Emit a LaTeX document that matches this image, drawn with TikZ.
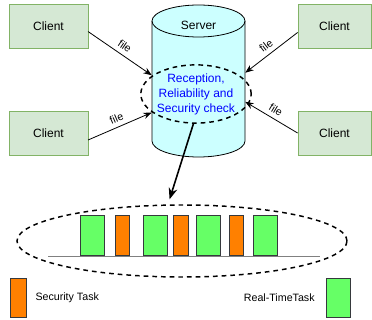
\documentclass[tikz,border=0pt]{standalone}
\usepackage{fontspec}
\setmainfont{Liberation Sans}
\usetikzlibrary{arrows.meta,positioning,shapes.geometric}
\definecolor{clientfill}{HTML}{D5E8D4}
\definecolor{clientline}{HTML}{82B366}
\definecolor{serverfill}{HTML}{CCFFFF}
\definecolor{rtgreen}{HTML}{66FF66}
\definecolor{secorange}{HTML}{FF8000}
\definecolor{barline}{HTML}{36393D}

\begin{document}
\begin{tikzpicture}[
    x=0.75pt, y=0.75pt,
    client/.style={draw=clientline, fill=clientfill, minimum height=33pt, font=\fontsize{9}{11}\selectfont},
    ring/.style={draw, ellipse, dash pattern=on 3.5pt off 3pt, line width=1.1pt, inner sep=0pt},
    arr/.style={-{Stealth[length=2.2mm, width=1.7mm]}, line width=0.6pt},
    bigarr/.style={-{Stealth[length=3mm, width=2.3mm]}, line width=1.2pt},
    lbl/.style={font=\fontsize{8}{10}\selectfont, sloped, above, midway},
    bar/.style={draw=barline, inner sep=0pt, minimum height=30pt, line width=0.6pt},
    legtext/.style={font=\fontsize{8}{10}\selectfont}
]
\useasboundingbox (0,0) rectangle (372,-320);

% server
\filldraw[fill=serverfill, line width=0.6pt] (152,-21) -- (152,-141)
    arc[start angle=180, end angle=360, x radius=46.5, y radius=16] -- (245,-21)
    arc[start angle=0, end angle=180, x radius=46.5, y radius=16];
\draw[line width=0.6pt] (152,-21) arc[start angle=180, end angle=360, x radius=46.5, y radius=16];
\node[minimum width=69.75pt, minimum height=114pt, inner sep=0pt] (server) at (198.5,-81) {};
\node[font=\fontsize{9}{11}\selectfont] (servertitle) at (198.5,-25) {Server};
\node[ring, minimum width=71pt, minimum height=43pt, text=blue, align=center,
      font=\fontsize{9}{11.25}\selectfont] (check) at (196,-94) {Reception,\\Reliability and\\Security check};

% clients
\node[client, minimum width=59pt] (cl1) at (48.5,-26) {Client};
\node[client, minimum width=59pt] (cl2) at (48.5,-133) {Client};
\node[client, minimum width=55pt] (cr1) at (334.5,-26) {Client};
\node[client, minimum width=55pt] (cr2) at (334.5,-133) {Client};

\draw[arr] (cl1.-8) -- (server.173) node[lbl] {file};
\draw[arr] (cl2.-10) -- (server.214) node[lbl] {file};
\draw[arr] (cr1.190) -- (server.10) node[lbl] {file};
\draw[arr] (cr2.west) -- (server.336) node[lbl] {file};

% schedule
\node[ring, minimum width=247.5pt, minimum height=54pt] (queue) at (182,-241) {};
\draw[bigarr, shorten >=4pt] (check.265) -- (queue.111);
\draw[gray, line width=0.6pt] (48,-256) -- (320,-256);
\foreach \x/\w/\c [count=\i] in {80/18pt/rtgreen, 115/10.5pt/secorange, 143/18pt/rtgreen,
    173/11pt/secorange, 196/18pt/rtgreen, 229/10.5pt/secorange, 253/18pt/rtgreen}
  \node[bar, fill=\c, minimum width=\w, anchor=south west] (bar\i) at (\x,-256) {};

% legend
\node[bar, fill=secorange, minimum width=12pt, minimum height=29pt, anchor=north west] (legsec) at (10,-278) {};
\node[legtext, right=3pt of legsec] (legsectext) {Security Task};
\node[bar, fill=rtgreen, minimum width=18pt, minimum height=29pt, anchor=north west] (legrt) at (326,-278) {};
\node[legtext, left=5pt of legrt] (legrttext) {Real-TimeTask};
\end{tikzpicture}
\end{document}
